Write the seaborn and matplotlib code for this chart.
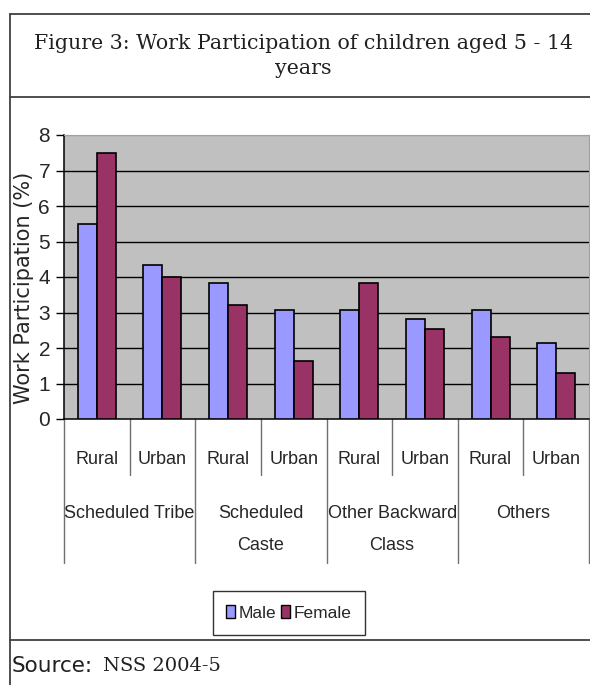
import matplotlib
matplotlib.use('Agg')
import matplotlib.pyplot as plt
import matplotlib.patches as mpatches
from matplotlib.lines import Line2D
import seaborn as sns
import pandas as pd

# data
groups = ['Scheduled Tribe', 'Scheduled\nCaste', 'Other Backward\nClass', 'Others']
areas = ['Rural', 'Urban']
male = [5.5, 4.33, 3.82, 3.08, 3.08, 2.82, 3.08, 2.13]
female = [7.5, 4.0, 3.2, 1.62, 3.82, 2.54, 2.31, 1.3]
yticks = [0, 1, 2, 3, 4, 5, 6, 7, 8]

cats = [g + '|' + a for g in groups for a in areas]
df = pd.DataFrame({
    'cat': cats * 2,
    'sex': ['Male'] * len(cats) + ['Female'] * len(cats),
    'val': male + female,
})

sns.set_style('white')
arial = 'Liberation Sans'

fig = plt.figure(figsize=(5.9, 6.85), dpi=100)
W, H = 590, 685
ax = fig.add_axes([64 / W, 1 - 419 / H, 525 / W, 284 / H])

cols = {'Male': '#9999FF', 'Female': '#993366'}
sns.barplot(data=df, x='cat', y='val', hue='sex', palette=cols, ax=ax,
            width=0.58, edgecolor='black', linewidth=1.2, legend=False,
            saturation=1, zorder=3)

ax.set_facecolor('#C0C0C0')
ax.set_ylim(0, 8)
ax.set_xlim(-0.5, len(cats) - 0.5)
ax.set_yticks(yticks)
ax.set_yticklabels([str(t) for t in yticks], fontsize=15, family=arial)
ax.tick_params(axis='y', length=6, width=1, color='black', pad=4, left=True)
for t in yticks[1:-1]:
    ax.axhline(t, color='black', lw=1, zorder=1)
ax.axhline(8, color='#A0A0A0', lw=1, zorder=1)
for s in ['top', 'right']:
    ax.spines[s].set_color('#A0A0A0')
for s in ['left', 'bottom']:
    ax.spines[s].set_color('black')
    ax.spines[s].set_linewidth(1.1)
ax.set_xticks([])
ax.set_xlabel('')
ax.set_ylabel('Work Participation (%)', fontsize=15, family='DejaVu Sans')
ax.yaxis.set_label_coords(-30 / 525, 0.46)

# two-level category axis
tr = ax.get_xaxis_transform()
inner = -56 / 284
outer = -144 / 284
for i in range(len(cats) + 1):
    x = i - 0.5
    y1 = outer if i % 2 == 0 else inner
    ax.plot([x, x], [0, y1], transform=tr, color='#707070', lw=1,
            clip_on=False)
for i, c in enumerate(cats):
    ax.text(i, -41 / 284, c.split('|')[1], transform=tr, ha='center',
            va='center', fontsize=13, family=arial)
for j, g in enumerate(groups):
    for k, line in enumerate(g.split('\n')):
        ax.text(2 * j + 0.5, -(94 + 33 * k) / 284, line, transform=tr,
                ha='center', va='center', fontsize=13, family=arial)

handles = [mpatches.Patch(facecolor=cols[k], edgecolor='black', label=k)
           for k in ['Male', 'Female']]
leg = fig.legend(handles=handles, loc='center', ncol=2,
                 bbox_to_anchor=(289 / W, 1 - 613 / H),
                 prop={'family': arial, 'size': 12.5}, frameon=True,
                 fancybox=False, edgecolor='black', handlelength=0.5,
                 handleheight=0.75, handletextpad=0.2, columnspacing=0.3,
                 borderpad=0.8, borderaxespad=0)
leg.get_frame().set_linewidth(1)

# outer frame
def fline(x0, y0, x1, y1):
    fig.add_artist(Line2D([x0 / W, x1 / W], [1 - y0 / H, 1 - y1 / H],
                          color='#404040', lw=1.3))

fline(10, 14, W, 14)
fline(10, 14, 10, H)
fline(10, 97, W, 97)
fline(10, 640, W, 640)

fig.text(303 / W, 1 - 49 / H,
         'Figure 3: Work Participation of children aged 5 - 14',
         ha='center', va='baseline', fontsize=14.8, family='DejaVu Serif',
         color='#202020')
fig.text(303 / W, 1 - 74 / H, 'years', ha='center', va='baseline',
         fontsize=14.8, family='DejaVu Serif', color='#202020')
fig.text(12 / W, 1 - 666 / H, 'Source:', ha='left', va='center',
         fontsize=15.5, family='DejaVu Sans', color='#202020')
fig.text(103 / W, 1 - 666 / H, 'NSS 2004-5', ha='left', va='center',
         fontsize=14, family='DejaVu Serif', color='#202020')

fig.savefig('out.png', dpi=100)
